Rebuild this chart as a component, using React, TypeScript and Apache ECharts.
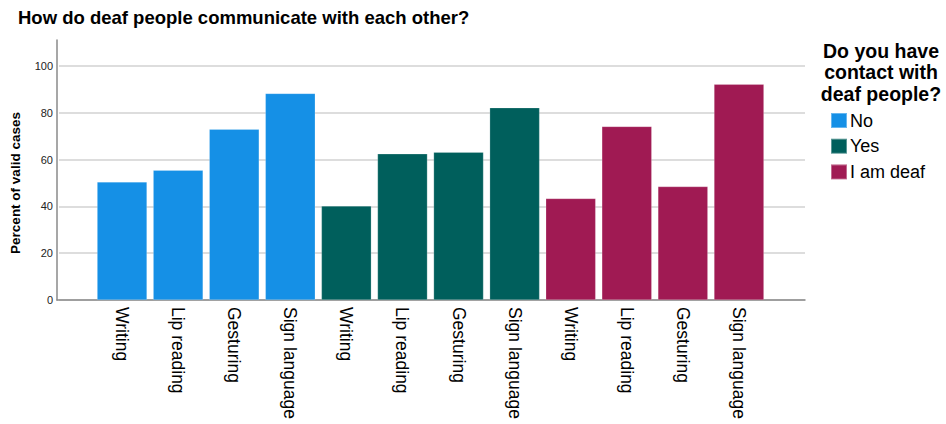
import React, { useEffect, useRef } from "react";
import * as echarts from "echarts";

const methods = ["Writing", "Lip reading", "Gesturing", "Sign language"];
const groups = ["No", "Yes", "I am deaf"];
const noValues = [50.5, 55.5, 73.0, 88.3];
const yesValues = [40.2, 62.5, 63.2, 82.2];
const deafValues = [43.4, 74.2, 48.5, 92.2];
const yTicks = [0, 20, 40, 60, 80, 100];
const colors = ["#1590E6", "#005F5C", "#A01A53"];

export default function App() {
  const ref = useRef<HTMLDivElement>(null);
  useEffect(() => {
    if (!ref.current) return;
    const chart = echarts.init(ref.current, null, { renderer: "svg" });
    const allValues = [noValues, yesValues, deafValues];
    const xCats: string[] = [];
    groups.forEach(() => methods.forEach((m) => xCats.push(m)));
    const series = groups.map((g, gi) => ({
      name: g,
      type: "bar",
      stack: "all",
      xAxisIndex: 2,
      yAxisIndex: 2,
      barWidth: 50,
      itemStyle: { color: colors[gi], borderColor: "rgba(255,255,255,0.35)", borderWidth: 0.6 },
      data: xCats.map((_, i) =>
        Math.floor(i / methods.length) === gi ? allValues[gi][i % methods.length] : "-"
      ),
    }));
    const font = "Arial, 'Liberation Sans', sans-serif";
    chart.setOption({
      animation: false,
      textStyle: { fontFamily: font },
      title: [
        {
          text: "How do deaf people communicate with each other?",
          left: 13,
          top: 3,
          textStyle: { fontSize: 18.5, fontWeight: "bold", color: "#000", fontFamily: font },
        },
        {
          text: "Do you have\ncontact with\ndeaf people?",
          left: 876,
          top: 35,
          textAlign: "center",
          textStyle: { fontSize: 19.5, fontWeight: "bold", color: "#000", lineHeight: 21.5, fontFamily: font },
        },
      ],
      legend: {
        data: groups,
        orient: "vertical",
        left: 830,
        top: 111.5,
        padding: 0,
        itemWidth: 16,
        itemHeight: 15,
        itemGap: 7.7,
        icon: "rect",
        textStyle: { fontSize: 18, color: "#000", padding: [0, 0, 0, -2], lineHeight: 15, fontFamily: font },
      },
      grid: [
        { left: 57, right: 141, top: 40, bottom: 124 },
        { left: 57, right: 141, top: 66, bottom: 124 },
        { left: 94, width: 673, top: 66, bottom: 124 },
      ],
      xAxis: [
        {
          type: "value",
          gridIndex: 0,
          min: 0,
          max: 1,
          axisLine: { show: true, lineStyle: { color: "#8a8a8a", width: 1.5 } },
          axisTick: { show: false },
          axisLabel: { show: false },
          splitLine: { show: false },
        },
        {
          type: "value",
          gridIndex: 1,
          min: 0,
          max: 1,
          show: false,
        },
        {
          type: "category",
          gridIndex: 2,
          data: xCats,
          axisLine: { show: false },
          axisTick: { show: false },
          axisLabel: {
            rotate: -90,
            interval: 0,
            margin: 7,
            fontSize: 17.5,
            color: "#000",
            fontFamily: font,
          },
        },
      ],
      yAxis: [
        {
          type: "value",
          gridIndex: 0,
          min: 0,
          max: 111.2,
          axisLine: { show: true, lineStyle: { color: "#8a8a8a", width: 1.5 } },
          axisTick: { show: false },
          axisLabel: { show: false },
          splitLine: { show: false },
        },
        {
          type: "value",
          gridIndex: 1,
          min: yTicks[0],
          max: yTicks[yTicks.length - 1],
          interval: 20,
          name: "Percent of valid cases",
          nameLocation: "middle",
          nameGap: 37,
          nameTextStyle: { fontSize: 13.5, fontWeight: "bold", color: "#000", fontFamily: font },
          axisLine: { show: false },
          axisTick: { show: false },
          axisLabel: { fontSize: 11, color: "#222", margin: 6, fontFamily: font },
          splitLine: { show: true, lineStyle: { color: "#d2d2d2", width: 1.5 } },
        },
        {
          type: "value",
          gridIndex: 2,
          min: 0,
          max: 100,
          show: false,
        },
      ],
      series,
    });
    return () => chart.dispose();
  }, []);
  return <div ref={ref} style={{ width: 946, height: 424, position: "absolute", left: 0, top: 0 }} />;
}
